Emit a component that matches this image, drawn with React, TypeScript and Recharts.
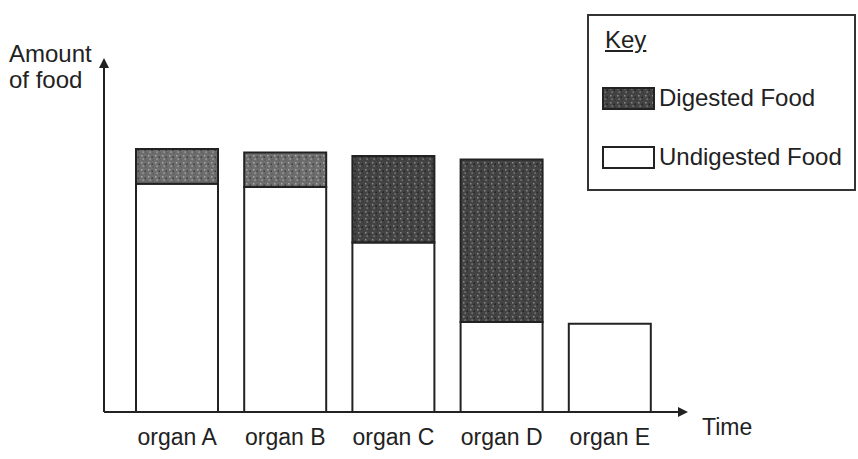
import React from 'react';
import { BarChart, Bar, XAxis, YAxis, Cell } from 'recharts';

const categories = ['organ A', 'organ B', 'organ C', 'organ D', 'organ E'];
const undigested = [66, 65, 49, 26, 25.5];
const digested = [10, 10, 25, 47, 0];
const digestedShade = ['light', 'light', 'dark', 'dark', 'dark'];
const seriesNames = ['Digested Food', 'Undigested Food'];
const yLabelLines = ['Amount', 'of food'];
const xLabel = 'Time';
const keyTitle = 'Key';

const data = categories.map((name, i) => ({
  name,
  undigested: undigested[i],
  digested: digested[i] > 0 ? digested[i] : null,
}));

const FONT = '"Liberation Sans", Arial, sans-serif';
const INK = '#222';

const YLabel = (props: any) => {
  const vb = props.viewBox || { x: 0, y: 0, width: 0, height: 0 };
  const x = vb.x - 94;
  const y = vb.y - 4;
  return (
    <text x={x} y={y} fill={INK} fontSize={24} fontFamily={FONT}>
      <tspan x={x} dy={0}>{yLabelLines[0]}</tspan>
      <tspan x={x} dy={26}>{yLabelLines[1]}</tspan>
    </text>
  );
};

export default function App() {
  return (
    <div style={{ position: 'absolute', left: 0, top: 0, width: 858, height: 459, background: '#fff' }}>
      <BarChart
        width={858}
        height={459}
        data={data}
        margin={{ top: 66, right: 178, bottom: 17, left: 103 }}
        barCategoryGap={13}
      >
        <defs>
          <pattern id="texLight" width="7" height="7" patternUnits="userSpaceOnUse">
            <rect width="7" height="7" fill="#6e6e6e" />
            <rect x="1" y="1" width="1.5" height="1.5" fill="#a8a8a8" />
            <rect x="4.5" y="2.5" width="1.5" height="1.5" fill="#3e3e3e" />
            <rect x="2.5" y="4.5" width="1.2" height="1.2" fill="#b8b8b8" />
            <rect x="5.5" y="5.5" width="1" height="1" fill="#4a4a4a" />
          </pattern>
          <pattern id="texDark" width="7" height="7" patternUnits="userSpaceOnUse">
            <rect width="7" height="7" fill="#444" />
            <rect x="1" y="1" width="1.5" height="1.5" fill="#8a8a8a" />
            <rect x="4.5" y="2.5" width="1.5" height="1.5" fill="#222" />
            <rect x="2.5" y="4.5" width="1.2" height="1.2" fill="#999" />
            <rect x="5.5" y="5.5" width="1" height="1" fill="#2a2a2a" />
          </pattern>
          <marker id="arrowHead" viewBox="0 0 10 10" refX="2" refY="5" markerWidth="5" markerHeight="5" orient="auto-start-reverse">
            <path d="M0,0 L10,5 L0,10 z" fill={INK} />
          </marker>
        </defs>
        <XAxis
          dataKey="name"
          height={30}
          padding={{ left: 19, right: 16 }}
          tickLine={false}
          axisLine={{ stroke: INK, strokeWidth: 2, markerEnd: 'url(#arrowHead)' }}
          tick={{ fill: INK, fontSize: 23, fontFamily: FONT }}
          tickMargin={11}
          interval={0}
          label={{ value: xLabel, position: 'right', offset: 22, fill: INK, fontSize: 23, fontFamily: FONT }}
        />
        <YAxis
          width={1}
          domain={[0, 100]}
          tick={false}
          tickLine={false}
          axisLine={{ stroke: INK, strokeWidth: 2, markerStart: 'url(#arrowHead)' }}
          label={<YLabel />}
        />
        <Bar dataKey="undigested" stackId="a" fill="#fff" stroke={INK} strokeWidth={2} isAnimationActive={false} />
        <Bar dataKey="digested" stackId="a" stroke={INK} strokeWidth={2} isAnimationActive={false}>
          {data.map((d, i) => (
            <Cell key={d.name} fill={digestedShade[i] === 'light' ? 'url(#texLight)' : 'url(#texDark)'} />
          ))}
        </Bar>
      </BarChart>
      <div
        style={{
          position: 'absolute',
          left: 587,
          top: 14,
          width: 269,
          height: 177,
          border: '2px solid #333',
          fontFamily: FONT,
          color: INK,
          fontSize: 24,
          boxSizing: 'border-box',
        }}
      >
        <div style={{ position: 'absolute', left: 16, top: 10, textDecoration: 'underline', lineHeight: '28px' }}>{keyTitle}</div>
        {seriesNames.map((name, i) => (
          <div key={name} style={{ position: 'absolute', left: 13, top: 68 + i * 59, display: 'flex', alignItems: 'center', lineHeight: '28px' }}>
            <svg width={53} height={23} style={{ marginRight: 4 }}>
              <rect x={1} y={1} width={51} height={21} fill={i === 0 ? 'url(#texDark)' : '#fff'} stroke={INK} strokeWidth={2} />
            </svg>
            <span>{name}</span>
          </div>
        ))}
      </div>
    </div>
  );
}
